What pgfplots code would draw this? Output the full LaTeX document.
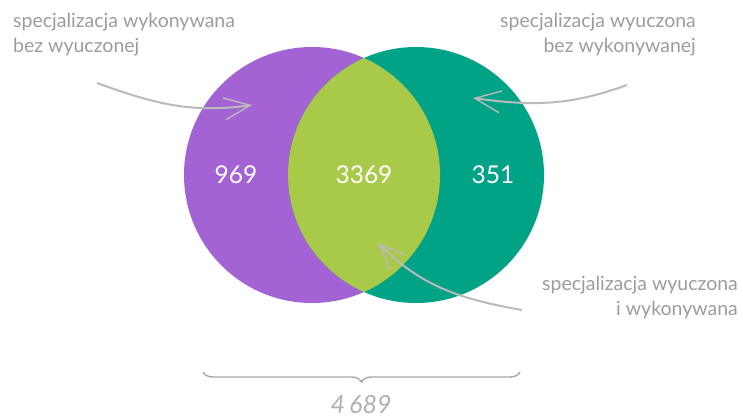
\documentclass[border=0pt]{standalone}
\usepackage{pgfplots}
\pgfplotsset{compat=1.18}
\usepackage{fontspec}
\setmainfont{Lato}
\usetikzlibrary{arrows.meta,decorations.pathreplacing}
\definecolor{vpurple}{HTML}{A463D4}
\definecolor{vgreen}{HTML}{00A386}
\definecolor{vlime}{HTML}{A8CA48}
\definecolor{txtgray}{HTML}{9C9C9C}
\definecolor{arrgray}{HTML}{BABABA}
\begin{document}
\begin{tikzpicture}
\begin{axis}[scale only axis, width=743pt, height=416pt,
  xmin=0, xmax=743, ymin=0, ymax=416, y dir=reverse,
  hide axis, clip=false]
\path (axis cs:0,0) rectangle (axis cs:743,416);
% the two sets (centres 312 and 416, radius 128)
\fill[vpurple] (axis cs:312,175) circle[radius=128pt];
\fill[vgreen] (axis cs:416,175) circle[radius=128pt];
\begin{scope}
\clip (axis cs:312,175) circle[radius=128pt];
\fill[vlime] (axis cs:416,175) circle[radius=128pt];
\end{scope}
% values
\node[white, font=\fontsize{24.5}{28}\selectfont] at (axis cs:236,175) {969};
\node[white, font=\fontsize{24.5}{28}\selectfont] at (axis cs:364,175) {3369};
\node[white, font=\fontsize{24.5}{28}\selectfont] at (axis cs:493,175) {351};
% annotations
\node[txtgray, anchor=base west, font=\fontsize{19.5}{20}\selectfont, inner sep=0pt] at (axis cs:13,28) {specjalizacja wykonywana};
\node[txtgray, anchor=base west, font=\fontsize{19.5}{20}\selectfont, inner sep=0pt] at (axis cs:13,53) {bez wyuczonej};
\node[txtgray, anchor=base east, font=\fontsize{19.5}{20}\selectfont, inner sep=0pt] at (axis cs:696,28) {specjalizacja wyuczona};
\node[txtgray, anchor=base east, font=\fontsize{19.5}{20}\selectfont, inner sep=0pt] at (axis cs:696,53) {bez wykonywanej};
\node[txtgray, anchor=base east, font=\fontsize{19.5}{20}\selectfont, inner sep=0pt] at (axis cs:738,290) {specjalizacja wyuczona};
\node[txtgray, anchor=base east, font=\fontsize{19.5}{20}\selectfont, inner sep=0pt] at (axis cs:738,315) {i wykonywana};
% arrows
\draw[arrgray, line width=2pt, -{Straight Barb[length=26pt, width=22pt, line width=1.4pt]}] (axis cs:97,83) to[out=-20, in=188] (axis cs:252,105);
\draw[arrgray, line width=2pt, -{Straight Barb[length=26pt, width=22pt, line width=1.4pt]}] (axis cs:627,85) to[out=200, in=-8] (axis cs:473,98);
\draw[arrgray, line width=2pt, -{Straight Barb[length=26pt, width=22pt, line width=1.4pt]}] (axis cs:522,310) to[out=170, in=-45] (axis cs:378,243);
% brace and total
\draw[arrgray!90!black, line width=1.4pt, decorate, decoration={brace, mirror, amplitude=10pt}] (axis cs:203,372) -- (axis cs:520,372);
\node[txtgray!80, font=\itshape\fontsize{25}{28}\selectfont] at (axis cs:361,405) {4\,689};
\end{axis}
\end{tikzpicture}
\end{document}
